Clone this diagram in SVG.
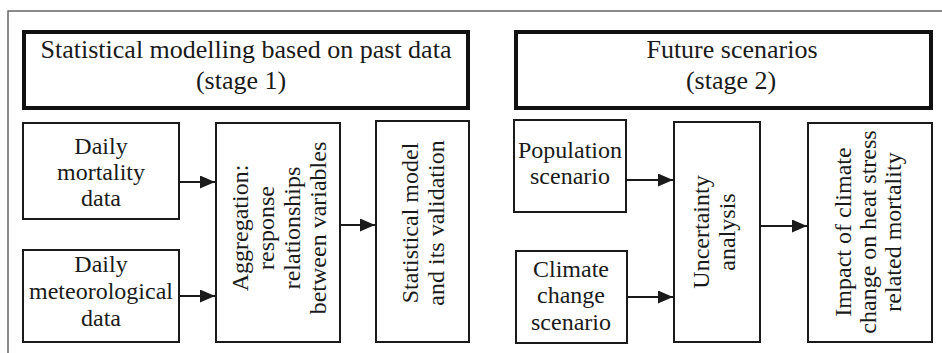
<svg xmlns="http://www.w3.org/2000/svg" width="942" height="353" viewBox="0 0 942 353">
<defs>
<style>
.frame{fill:none;stroke:#666;stroke-width:1.5}
.hdr{fill:#fff;stroke:#111;stroke-width:4}
.box{fill:#fff;stroke:#1a1a1a;stroke-width:2}
text{fill:#1a1a1a;text-anchor:middle}
.h{font-size:26px}
.b{font-size:24px}
.edge{stroke:#1a1a1a;stroke-width:2;fill:none;marker-end:url(#arr)}
</style>
<marker id="arr" viewBox="0 0 15 13" refX="15" refY="6.5" markerWidth="15" markerHeight="13" markerUnits="userSpaceOnUse" orient="auto">
<path d="M0,0 L15,6.5 L0,13 Z" fill="#1a1a1a"/>
</marker>
</defs>
<rect width="942" height="353" fill="#fff"/>
<path class="frame" d="M8,353 V11 H942"/>
<g font-family="Liberation Serif, Times New Roman, DejaVu Serif, serif">
<g id="stage1">
<rect class="hdr" x="24" y="32" width="444" height="76"/>
<text class="h" x="246" y="58">Statistical modelling based on past data</text>
<text class="h" x="241" y="89">(stage 1)</text>
</g>
<g id="stage2">
<rect class="hdr" x="516" y="32" width="415" height="76"/>
<text class="h" x="732" y="58">Future scenarios</text>
<text class="h" x="731" y="89">(stage 2)</text>
</g>

<g id="mortality">
<rect class="box" x="23" y="123" width="156" height="96"/>
<text class="b" x="101" y="154">Daily</text>
<text class="b" x="101" y="180">mortality</text>
<text class="b" x="101" y="206">data</text>
</g>
<g id="meteorological">
<rect class="box" x="23" y="250" width="156" height="92"/>
<text class="b" x="101" y="272">Daily</text>
<text class="b" x="101" y="299">meteorological</text>
<text class="b" x="101" y="326">data</text>
</g>
<g id="aggregation">
<rect class="box" x="216" y="123" width="124" height="219"/>
<g transform="translate(0,228) rotate(-90)">
<text class="b" x="0" y="248">Aggregation:</text>
<text class="b" x="0" y="274">response</text>
<text class="b" x="0" y="300">relationships</text>
<text class="b" x="0" y="326">between variables</text>
</g>
</g>
<g id="statmodel">
<rect class="box" x="376" y="121" width="93" height="221"/>
<g transform="translate(0,223) rotate(-90)">
<text class="b" x="0" y="418">Statistical model</text>
<text class="b" x="0" y="444">and its validation</text>
</g>
</g>

<g id="population">
<rect class="box" x="514" y="120" width="112" height="92"/>
<text class="b" x="570" y="158">Population</text>
<text class="b" x="570" y="184">scenario</text>
</g>
<g id="climate">
<rect class="box" x="516" y="251" width="111" height="92"/>
<text class="b" x="571" y="277">Climate</text>
<text class="b" x="571" y="303">change</text>
<text class="b" x="571" y="330">scenario</text>
</g>
<g id="uncertainty">
<rect class="box" x="674" y="122" width="86" height="220"/>
<g transform="translate(0,232) rotate(-90)">
<text class="b" x="0" y="709">Uncertainty</text>
<text class="b" x="0" y="735">analysis</text>
</g>
</g>
<g id="impact">
<rect class="box" x="808" y="123" width="124" height="219"/>
<g transform="translate(0,232) rotate(-90)">
<text class="b" x="0" y="851">Impact of climate</text>
<text class="b" x="0" y="876">change on heat stress</text>
<text class="b" x="0" y="901">related mortality</text>
</g>
</g>
</g>
<g id="connectors">
<line class="edge" x1="179" y1="182" x2="215" y2="182"/>
<line class="edge" x1="179" y1="296" x2="215" y2="296"/>
<line class="edge" x1="340" y1="225" x2="375" y2="225"/>
<line class="edge" x1="626" y1="180" x2="673" y2="180"/>
<line class="edge" x1="627" y1="297" x2="673" y2="297"/>
<line class="edge" x1="760" y1="226" x2="807" y2="226"/>
</g>
</svg>
